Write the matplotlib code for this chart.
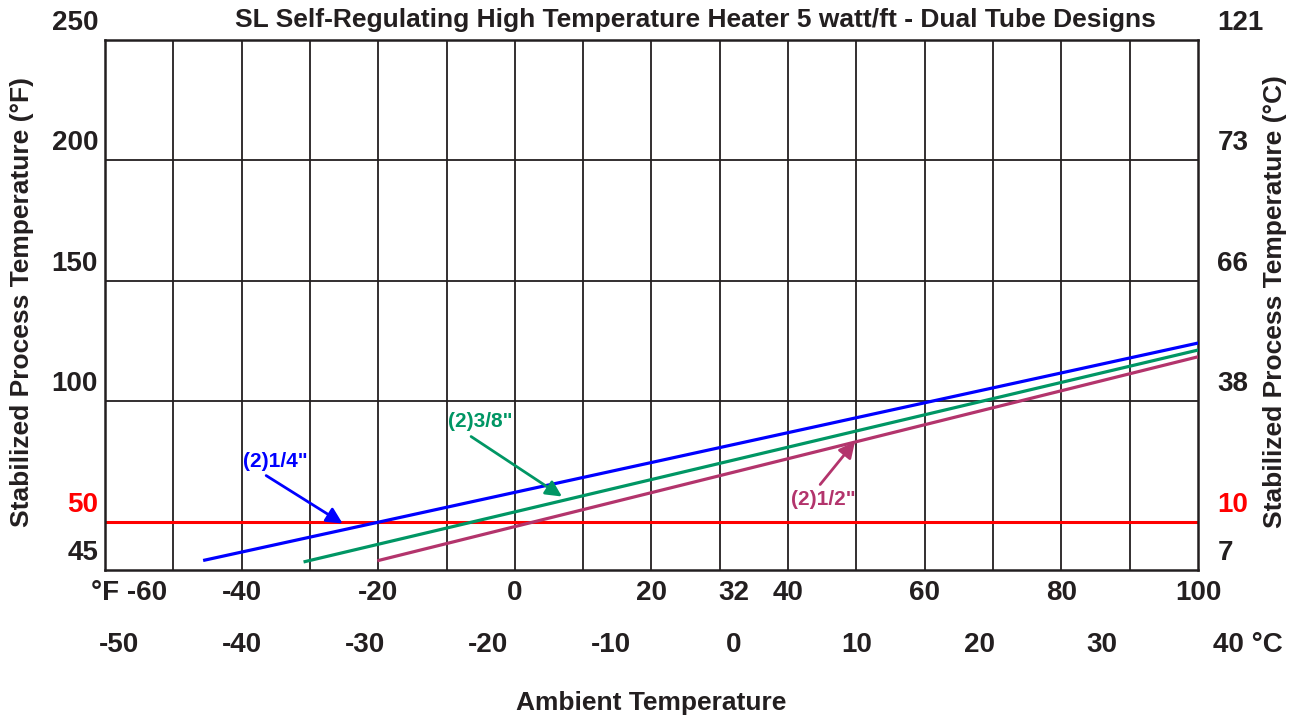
import matplotlib.pyplot as plt
from matplotlib.transforms import ScaledTranslation

# Data (degrees F)
f_ticks = [-60, -40, -20, 0, 20, 32, 40, 60, 80, 100]
f_labels = ['°F -60', '-40', '-20', '0', '20', '32', '40', '60', '80', '100']
c_ticks = [-50, -40, -30, -20, -10, 0, 10, 20, 30, 40]
c_labels = ['-50', '-40', '-30', '-20', '-10', '0', '10', '20', '30', '40 °C']
y_ticks = [250, 200, 150, 100, 50, 30]
y_labels_f = ['250', '200', '150', '100', '50', '45']
y_labels_c = ['121', '73', '66', '38', '10', '7']

quarter_x = [-45.4, 100]
quarter_y = [34.1, 124.2]
three_eighths_x = [-30.7, 100]
three_eighths_y = [33.5, 121.3]
half_x = [-19.9, 100]
half_y = [34.0, 118.5]

# label text, text pos, arrow tail, arrow tip
callouts = [
    ('(2)1/4"', (-35.0, 75.0), (-36.4, 69.2), (-25.2, 49.3), '#0000ff'),
    ('(2)3/8"', (-5.1, 91.6), (-6.4, 85.4), (6.9, 60.5), '#009664'),
    ('(2)1/2"', (45.1, 59.2), (44.7, 65.5), (49.8, 83.3), '#b3346c'),
]

plt.rcParams['font.family'] = ['Liberation Sans', 'DejaVu Sans']
plt.rcParams['font.weight'] = 'bold'
dark = '#231f20'
fs = 20

fig = plt.figure(figsize=(12.99, 7.17), dpi=100)
ax = fig.add_axes([0.0808, 0.2050, 0.8414, 0.7392])
ax.set_xlim(-60, 100)
ax.set_ylim(30, 250)

# grid
for x in range(-50, 100, 10):
    ax.axvline(x, color=dark, lw=1.3, zorder=1)
for y in [100, 150, 200]:
    ax.axhline(y, color=dark, lw=1.3, zorder=1)
ax.plot([-40, 100], [50, 50], color=dark, lw=1.3, zorder=1)
ax.axhline(50, color='#ff0000', lw=2.2, zorder=2)

for s in ax.spines.values():
    s.set_color(dark)
    s.set_linewidth(1.8)

ax.plot(quarter_x, quarter_y, color='#0000ff', lw=2.3, zorder=3)
ax.plot(three_eighths_x, three_eighths_y, color='#009664', lw=2.3, zorder=3)
ax.plot(half_x, half_y, color='#b3346c', lw=2.3, zorder=3)

for text, tpos, tail, tip, col in callouts:
    ax.text(tpos[0], tpos[1], text, color=col, fontsize=15, fontweight='bold',
            ha='center', va='center')
    ax.annotate('', xy=tip, xytext=tail,
                arrowprops=dict(arrowstyle='-|>', color=col, lw=2,
                                mutation_scale=24, shrinkA=0, shrinkB=0),
                zorder=4)

# bottom F axis
ax.set_xticks(f_ticks)
ax.set_xticklabels(f_labels, fontsize=fs, color=dark)
ax.tick_params(axis='x', length=0, pad=7)
lab0 = ax.get_xticklabels()[0]
lab0.set_transform(lab0.get_transform() + ScaledTranslation(24 / 100, 0, fig.dpi_scale_trans))

# left F axis, labels sit above their line
ax.set_yticks(y_ticks)
ax.set_yticklabels(y_labels_f, fontsize=fs, color=dark)
ax.tick_params(axis='y', length=0, pad=5)
up = ScaledTranslation(0, 20 / 100, fig.dpi_scale_trans)
for lab in ax.get_yticklabels():
    lab.set_transform(lab.get_transform() + up)
ax.get_yticklabels()[4].set_color('#ff0000')

# right C axis
ax2 = ax.twinx()
ax2.set_ylim(30, 250)
ax2.set_yticks(y_ticks)
ax2.set_yticklabels(y_labels_c, fontsize=fs, color=dark)
ax2.tick_params(axis='y', length=0, pad=14)
for lab in ax2.get_yticklabels():
    lab.set_transform(lab.get_transform() + up)
ax2.get_yticklabels()[4].set_color('#ff0000')
for s in ax2.spines.values():
    s.set_visible(False)

# Celsius row, placed at the equivalent F position
xt = ax.get_xaxis_transform()
for c, lab in zip(c_ticks, c_labels):
    f = c * 1.8 + 32
    if lab.endswith('°C'):
        ax.text(f, -0.1415, lab, transform=xt + ScaledTranslation(-12 / 100, 0, fig.dpi_scale_trans),
                fontsize=fs, color=dark, ha='left', va='center', clip_on=False)
    else:
        ax.text(f, -0.1415, lab, transform=xt, fontsize=fs, color=dark,
                ha='center', va='center', clip_on=False)

fig.text(0.5354, 0.972, 'SL Self-Regulating High Temperature Heater 5 watt/ft - Dual Tube Designs',
         fontsize=19, color=dark, ha='center', va='center')
fig.text(0.0169, 0.579, 'Stabilized Process Temperature (°F)', rotation=90,
         fontsize=19, color=dark, ha='center', va='center')
fig.text(0.9815, 0.579, 'Stabilized Process Temperature (°C)', rotation=90,
         fontsize=19, color=dark, ha='center', va='center')
fig.text(0.5012, 0.0195, 'Ambient Temperature', fontsize=19, color=dark,
         ha='center', va='center')

fig.savefig('out.png', dpi=100)
